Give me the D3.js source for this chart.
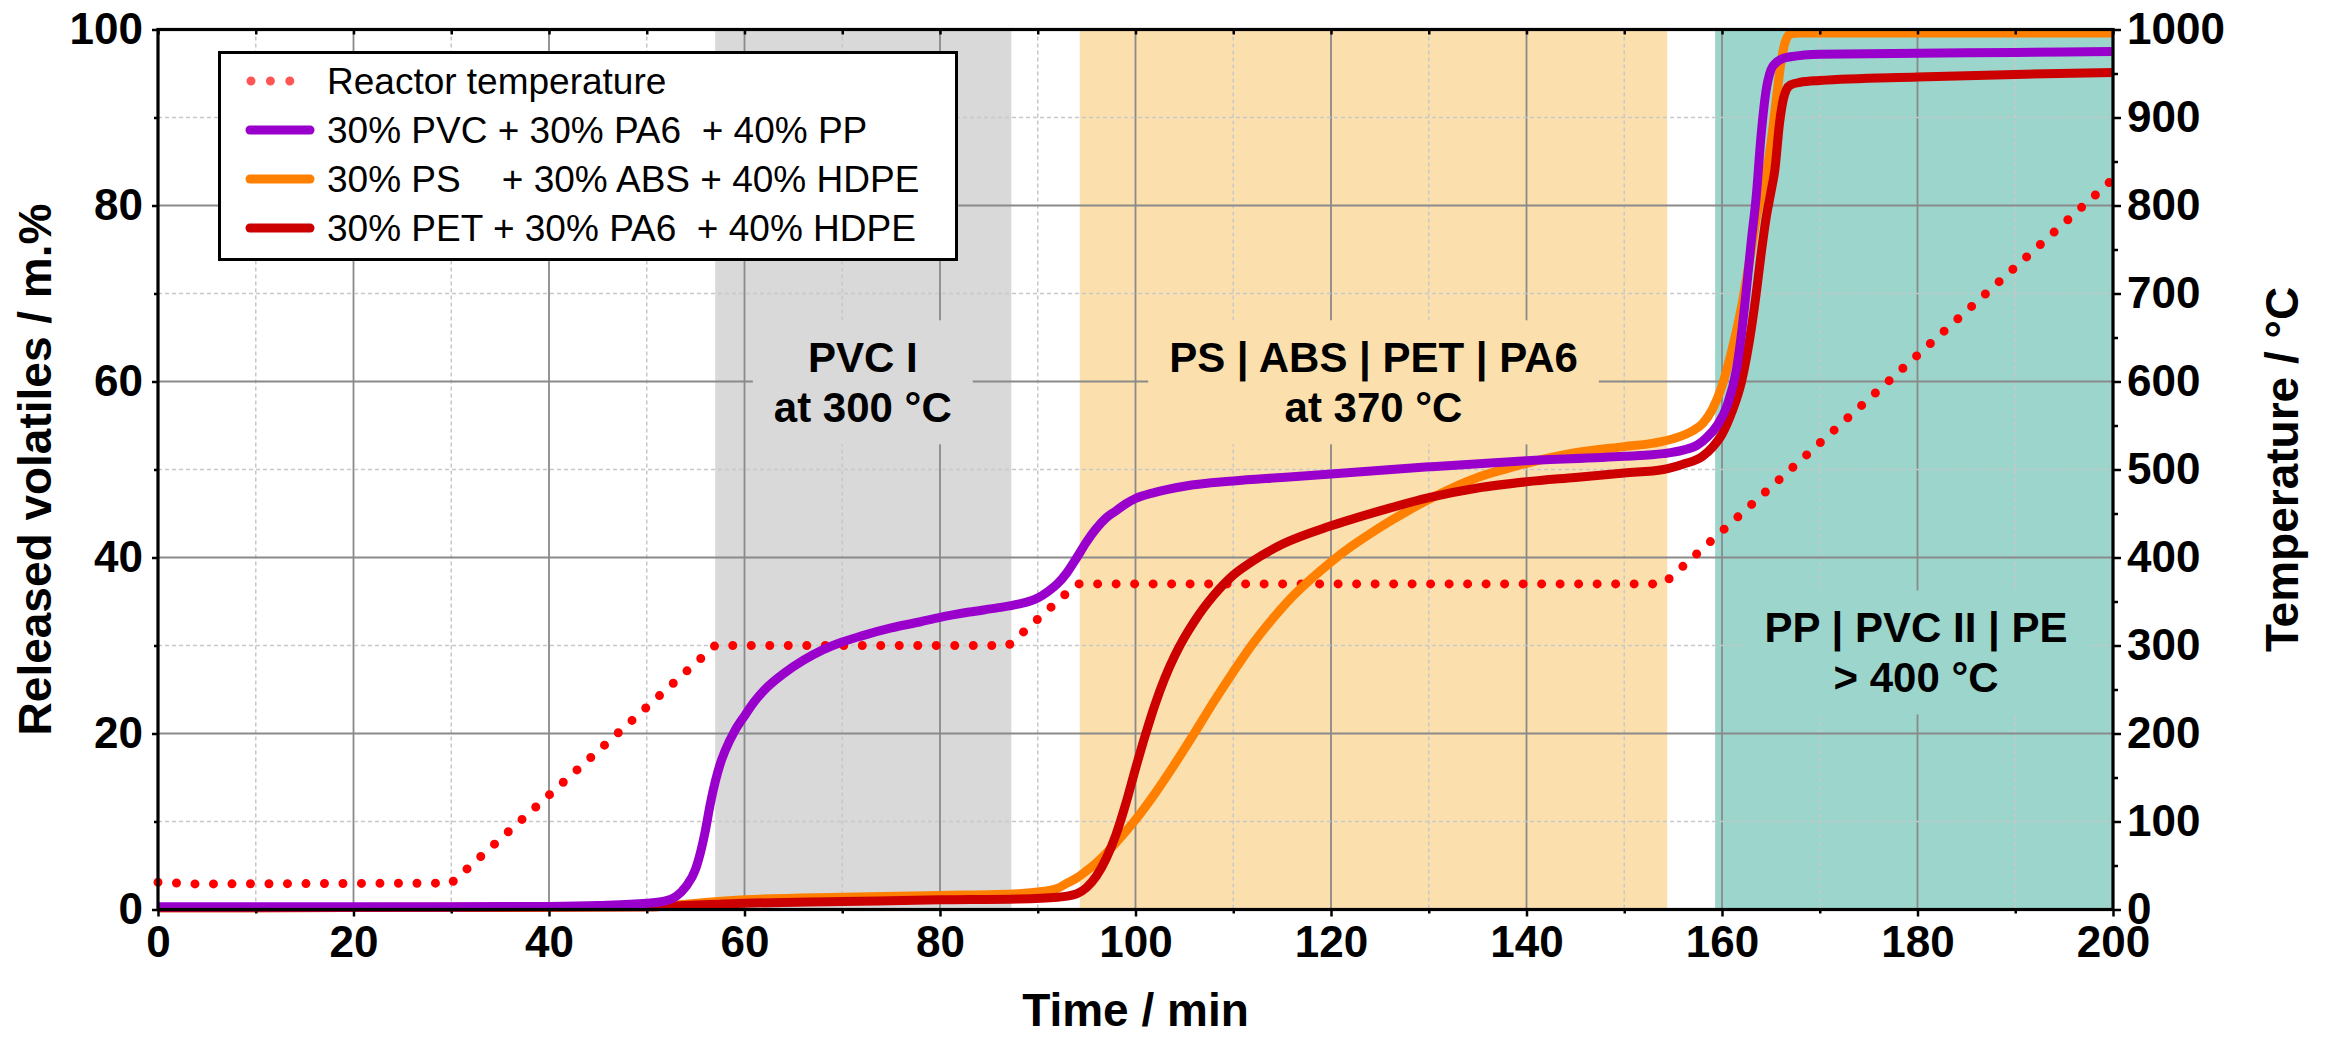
<!DOCTYPE html>
<html><head><meta charset="utf-8">
<script src="https://cdn.jsdelivr.net/npm/d3@7"></script>
<style>
html,body{margin:0;padding:0;background:#fff;}
svg{display:block;font-family:"Liberation Sans",Arial,Helvetica,sans-serif;}
</style></head><body>
<svg id="chart" width="2326" height="1037"></svg>
<script>
// ---------------- DATA ----------------
const timeTicks = d3.range(0, 201, 20);
const massTicks = d3.range(0, 101, 20);
const tempTicks = d3.range(0, 1001, 100);

const seriesNames = [
  "30% PVC + 30% PA6  + 40% PP",
  "30% PS    + 30% ABS + 40% HDPE",
  "30% PET + 30% PA6  + 40% HDPE"
];
const tempName = "Reactor temperature";

// [time / min, released volatiles / m.%]
const pvcMix = [[0,0.3],[10,0.3],[20,0.3],[30,0.3],[40,0.35],[45,0.45],[50,0.7],[52,1.0],[53,1.5],[54,2.6],[55,4.6],[55.5,6.5],[56,9],[56.5,12],[57,14.5],[57.5,16.5],[58,18],[59,20.3],[60,22],[61,23.6],[62,24.9],[64,26.8],[66,28.3],[68,29.5],[70,30.4],[72,31.1],[75,32],[78,32.7],[80,33.2],[83,33.8],[86,34.3],[88,34.7],[90,35.4],[91,36.1],[92,37.0],[93,38.3],[94,40.0],[95,41.8],[96,43.3],[97,44.5],[98,45.3],[99,46.1],[100,46.7],[102,47.4],[105,48.1],[110,48.7],[115,49.1],[120,49.5],[130,50.3],[140,51.0],[150,51.5],[154,51.8],[156,52.2],[157.5,52.8],[158.5,53.7],[159.5,55],[160.5,57.2],[161.5,61.5],[162,65.5],[162.5,70.5],[163,76],[163.5,81],[164,88],[164.5,93],[165,95.4],[165.5,96.2],[166,96.6],[167,96.9],[170,97.2],[180,97.3],[190,97.4],[200,97.5]];

const psMix = [[0,0.2],[50,0.3],[52,0.4],[54,0.6],[56,0.8],[60,1.1],[70,1.4],[80,1.6],[88,1.8],[90,2.0],[92,2.4],[93,3.0],[94,3.6],[95,4.4],[96,5.3],[98,7.6],[100,10.2],[102,13.2],[104,16.5],[106,20],[108,23.6],[110,27],[112,30.2],[114,33],[116,35.5],[118,37.6],[120,39.5],[122,41.2],[124,42.7],[126,44.1],[128,45.4],[130,46.6],[132,47.7],[135,49.1],[138,50.1],[140,50.7],[145,51.9],[150,52.6],[153,53.0],[155,53.5],[157,54.4],[158,55.2],[159,56.8],[160,59.5],[161,63.5],[162,68.5],[163,75],[163.5,78.5],[164,81],[164.5,83.5],[165,87],[165.5,91.5],[166,96],[166.5,98.7],[167,99.5],[168,99.6],[200,99.6]];

const petMix = [[0,0.2],[50,0.3],[55,0.5],[60,0.7],[70,0.9],[80,1.1],[88,1.2],[92,1.4],[94,1.8],[95,2.5],[96,3.8],[97,5.8],[98,8.5],[99,12],[100,16],[101,19.8],[102,23.3],[103,26.3],[104,28.8],[105,30.9],[106,32.7],[107,34.3],[108,35.7],[110,38],[112,39.6],[115,41.5],[120,43.6],[125,45.3],[130,46.8],[135,47.9],[140,48.6],[145,49.1],[150,49.6],[154,50.0],[156,50.6],[158,51.5],[159,52.5],[160,54.0],[161,56.5],[162,60],[163,66],[163.5,70],[164,74.5],[164.5,78.5],[165,81.5],[165.4,84],[165.9,89.5],[166.3,92.2],[166.6,93.2],[167,93.7],[168,94],[170,94.2],[180,94.6],[190,94.9],[200,95.1]];

// [time / min, temperature / °C]
const reactorTemp = [[0,31],[4,29],[30,30],[57,300],[87,300],[94,370],[154,370],[200,830]];

// shaded decomposition stages
const stageStart = [57, 94.3, 159.3];
const stageEnd   = [87.3, 154.4, 200];
const stageLabels = [["PVC I","at 300 °C"],["PS | ABS | PET | PA6","at 370 °C"],["PP | PVC II | PE","> 400 °C"]];
const stageLabelTime = [72.1, 124.35, 179.85];
const stageLabelValue = [61.1, 61.1, 30.4];

// ---------------- STYLE ----------------
const stageColors = ["#d9d9d9", "#fbe0ae", "#9bd5cc"];
const seriesColors = ["#9900cc", "#ff8000", "#cc0000"];

// ---------------- CHART ----------------
const svg = d3.select("#chart");
const L = 158, R = 2113, T = 29.5, B = 909.5;
const x = d3.scaleLinear().domain([0, 200]).range([L, R]);
const y = d3.scaleLinear().domain([0, 100]).range([B, T]);
const yT = d3.scaleLinear().domain([0, 1000]).range([B, T]);

// stages
svg.append("g").selectAll("rect").data(stageStart).join("rect")
  .attr("x", (d) => x(d)).attr("y", T)
  .attr("width", (d, i) => x(stageEnd[i]) - x(d)).attr("height", B - T)
  .attr("fill", (d, i) => stageColors[i]);

// grid
const grid = svg.append("g");
d3.range(10, 200, 10).forEach(t => {
  const major = t % 20 === 0;
  grid.append("line").attr("x1", x(t)).attr("x2", x(t)).attr("y1", T).attr("y2", B)
    .attr("stroke", major ? "#8a8a8a" : "#c8c8c8").attr("stroke-width", major ? 1.8 : 1.5)
    .attr("stroke-dasharray", major ? null : "4 3");
});
d3.range(10, 100, 10).forEach(v => {
  const major = v % 20 === 0;
  grid.append("line").attr("x1", L).attr("x2", R).attr("y1", y(v)).attr("y2", y(v))
    .attr("stroke", major ? "#8a8a8a" : "#c8c8c8").attr("stroke-width", major ? 2 : 1.5)
    .attr("stroke-dasharray", major ? null : "4 3");
});

// stage labels with background boxes
stageLabels.forEach((lines, i) => {
  const g = svg.append("g");
  const cx = x(stageLabelTime[i]), by = y(stageLabelValue[i]);
  const rect = g.append("rect").attr("fill", stageColors[i]);
  const texts = lines.map((s, k) => g.append("text").attr("x", cx).attr("y", by + k * 50)
    .attr("text-anchor", "middle").attr("font-size", 42).attr("font-weight", "bold")
    .attr("fill", "#000").text(s));
  const w = d3.max(texts, t => t.node().getComputedTextLength());
  rect.attr("x", cx - w / 2 - 21).attr("width", w + 42)
    .attr("y", by - 51.5).attr("height", 51.5 + 50 * (lines.length - 1) + 22.5);
});

// temperature (dotted)
const lineT = d3.line().x(d => x(d[0])).y(d => yT(d[1]));
svg.append("path").attr("d", lineT(reactorTemp)).attr("fill", "none")
  .attr("stroke", "#ff0000").attr("stroke-width", 9).attr("stroke-linecap", "round")
  .attr("stroke-dasharray", "0 18.5");

// mass curves
const lineM = d3.line().x(d => x(d[0])).y(d => y(d[1])).curve(d3.curveMonotoneX);
const drawOrder = [1, 2, 0];
const allSeries = [pvcMix, psMix, petMix];
drawOrder.forEach(i => {
  svg.append("path").attr("d", lineM(allSeries[i])).attr("fill", "none")
    .attr("stroke", seriesColors[i]).attr("stroke-width", 9)
    .attr("stroke-linejoin", "round").attr("stroke-linecap", "butt");
});

// axes
function styleAxis(g, size) {
  g.select(".domain").remove();
  g.selectAll(".tick line").attr("stroke", "#000").attr("stroke-width", 2.5);
  g.selectAll(".tick text").attr("font-size", size).attr("font-weight", "bold")
    .attr("fill", "#000").attr("font-family", "'Liberation Sans',Arial,sans-serif");
}
const fmt = d3.format("d");
styleAxis(svg.append("g").attr("transform", `translate(0,${B})`)
  .call(d3.axisBottom(x).tickValues(timeTicks).tickFormat(fmt).tickSize(7).tickPadding(9.5)), 44);
styleAxis(svg.append("g").attr("transform", `translate(0,${B})`)
  .call(d3.axisBottom(x).tickValues(d3.range(10, 200, 20)).tickSize(4).tickFormat("")), 44);
styleAxis(svg.append("g").attr("transform", `translate(0,${T})`)
  .call(d3.axisTop(x).tickValues(d3.range(0, 201, 10)).tickSize(-5).tickFormat("")), 44);
styleAxis(svg.append("g").attr("transform", `translate(${L},0)`)
  .call(d3.axisLeft(y).tickValues(massTicks).tickFormat(fmt).tickSize(6).tickPadding(9)), 44);
styleAxis(svg.append("g").attr("transform", `translate(${L},0)`)
  .call(d3.axisLeft(y).tickValues(d3.range(10, 100, 20)).tickSize(4).tickFormat("")), 44);
styleAxis(svg.append("g").attr("transform", `translate(${R},0)`)
  .call(d3.axisRight(yT).tickValues(tempTicks).tickFormat(fmt).tickSize(8).tickPadding(6)), 44);
styleAxis(svg.append("g").attr("transform", `translate(${R},0)`)
  .call(d3.axisRight(yT).tickValues(d3.range(50, 1000, 100)).tickSize(5).tickFormat("")), 44);

// frame
svg.append("rect").attr("x", L).attr("y", T).attr("width", R - L).attr("height", B - T)
  .attr("fill", "none").attr("stroke", "#000").attr("stroke-width", 3.2);

// axis titles
svg.append("text").attr("x", (L + R) / 2).attr("y", 1026).attr("text-anchor", "middle")
  .attr("font-size", 46).attr("font-weight", "bold").text("Time / min");
svg.append("text").attr("transform", `translate(51,${(T + B) / 2}) rotate(-90)`)
  .attr("text-anchor", "middle").attr("font-size", 46).attr("font-weight", "bold")
  .text("Released volatiles / m.%");
svg.append("text").attr("transform", `translate(2298,${(T + B) / 2}) rotate(-90)`)
  .attr("text-anchor", "middle").attr("font-size", 46).attr("font-weight", "bold")
  .text("Temperature / °C");

// legend
const lg = svg.append("g");
lg.append("rect").attr("x", 219.5).attr("y", 52.5).attr("width", 737).attr("height", 207)
  .attr("fill", "#fff").attr("stroke", "#000").attr("stroke-width", 3);
const rowY = k => 81 + k * 49;
lg.append("line").attr("x1", 251).attr("x2", 290).attr("y1", rowY(0)).attr("y2", rowY(0))
  .attr("stroke", "#ff5555").attr("stroke-width", 9).attr("stroke-linecap", "round")
  .attr("stroke-dasharray", "0 19.4");
lg.append("text").attr("x", 327).attr("y", rowY(0) + 13).attr("font-size", 37)
  .style("white-space", "pre").text(tempName);
seriesNames.forEach((s, i) => {
  lg.append("line").attr("x1", 250).attr("x2", 310).attr("y1", rowY(i + 1)).attr("y2", rowY(i + 1))
    .attr("stroke", seriesColors[i]).attr("stroke-width", 9).attr("stroke-linecap", "round");
  lg.append("text").attr("x", 327).attr("y", rowY(i + 1) + 13).attr("font-size", 37)
    .style("white-space", "pre").text(s);
});
</script>
</body></html>
